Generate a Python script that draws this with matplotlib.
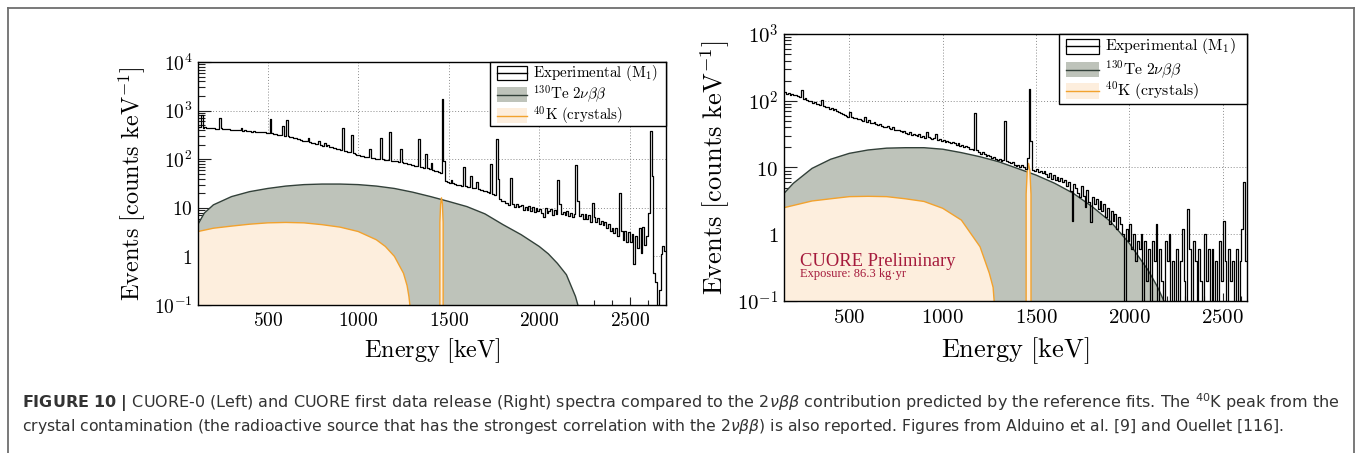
import numpy as np
import matplotlib
matplotlib.use('Agg')
import matplotlib.pyplot as plt
from matplotlib.patches import Rectangle
from matplotlib.lines import Line2D
from matplotlib.ticker import LogLocator, NullFormatter, MultipleLocator

plt.rcParams['mathtext.fontset'] = 'cm'
plt.rcParams['axes.unicode_minus'] = False

# ---------------- DATA ----------------
# Left panel (CUORE-0): experimental spectrum, 10 keV bins starting at 100 keV
LEFT_BIN_START = 100
LEFT_BIN_WIDTH = 10
LEFT_COUNTS = [
    470, 462, 455, 800, 448, 452, 440, 436, 445, 432,      # 100-200
    430, 428, 424, 700, 430, 418, 412, 420, 410, 405,      # 200-300
    402, 398, 395, 392, 400, 430, 384, 395, 380, 376,      # 300-400
    375, 370, 372, 365, 368, 360, 362, 356, 355, 350,      # 400-500
    350, 670, 342, 336, 330, 322, 318, 312, 480, 306,      # 500-600
    640, 300, 292, 285, 278, 270, 262, 255, 248, 242,      # 600-700
    238, 232, 275, 225, 220, 215, 210, 205, 235, 195,      # 700-800
    190, 220, 185, 200, 178, 175, 172, 168, 165, 160,      # 800-900
    156, 430, 150, 146, 142, 138, 320, 132, 128, 122,      # 900-1000
    120, 118, 115, 113, 111, 109, 165, 107, 105, 103,      # 1000-1100
    102, 100, 275, 99, 97, 96, 95, 360, 93, 92,            # 1100-1200
    92, 90, 89, 165, 86, 84, 82, 80, 78, 76,               # 1200-1300
    75, 73, 72, 260, 70, 68, 67, 125, 65, 63,              # 1300-1400
    85, 60, 58, 56, 55, 52, 1700, 90, 36, 34,              # 1400-1500
    33, 38, 32, 31, 30, 30, 29, 28, 70, 28,                # 1500-1600
    27, 27, 45, 26, 25, 34, 24, 23, 23, 22,                # 1600-1700
    22, 21, 20, 80, 19, 18, 260, 40, 15, 14,               # 1700-1800
    13.5, 12.4, 12.8, 11.6, 42, 11.8, 10.4, 11.8, 10.2, 10.9,  # 1800-1900
    11.2, 9.0, 10.6, 8.8, 10.8, 8.6, 10.2, 8.2, 9.9, 8.7,  # 1900-2000
    9.6, 7.8, 6.6, 9.8, 8.0, 8.6, 9.6, 7.0, 9.0, 7.6,      # 2000-2100
    38, 12, 7.6, 8.2, 7.0, 8.6, 6.8, 8.0, 6.4, 7.4,        # 2100-2200
    77, 14, 6.8, 7.4, 5.8, 7.4, 6.0, 7.0, 5.2, 12.5,       # 2200-2300
    6.6, 5.0, 6.2, 4.6, 5.4, 4.4, 5.0, 3.8, 4.6, 3.4,      # 2300-2400
    3.8, 3.0, 3.9, 2.6, 20, 3.4, 2.2, 3.4, 2.0, 3.2,       # 2400-2500
    2.0, 2.9, 0.7, 2.6, 1.5, 3.8, 1.2, 4.0, 1.7, 2.6,      # 2500-2600
    8, 375, 45, 0.45, 0.3, 0.05, 0.2, 1.1, 1.6, 1.3,       # 2600-2700
]
LEFT_BB_E = [115, 150, 200, 300, 400, 500, 600, 700, 800, 900, 1000, 1100, 1200,
             1300, 1400, 1500, 1600, 1700, 1800, 1900, 2000, 2050, 2100, 2150,
             2200, 2230]
LEFT_BB_V = [4.6, 7.8, 11.5, 17, 21.5, 25, 28, 30, 30.8, 30.8, 30, 28, 25,
             21, 17, 13.5, 10.6, 7.5, 4.5, 2.8, 1.6, 1.13, 0.72, 0.42,
             0.15, 0.06]
LEFT_K_E = [115, 200, 300, 400, 500, 600, 700, 800, 900, 1000, 1100, 1150,
            1200, 1250, 1270, 1280, 1292]
LEFT_K_V = [3.25, 3.8, 4.2, 4.6, 4.9, 5.0, 4.9, 4.5, 4.0, 3.25, 2.2, 1.6,
            1.0, 0.45, 0.25, 0.15, 0.06]
LEFT_KPEAK_E = [1448, 1451, 1455, 1460, 1465, 1469, 1472]
LEFT_KPEAK_V = [0, 5, 12, 16, 12, 5, 0]

# Right panel (CUORE): experimental spectrum, 10 keV bins starting at 150 keV
RIGHT_BIN_START = 150
RIGHT_BIN_WIDTH = 10
RIGHT_COUNTS = [
    135, 128, 132, 124, 126, 120, 122, 118, 114, 145,      # 150-250
    108, 110, 102, 98, 100, 92, 95, 88, 90, 86,            # 250-350
    103, 84, 82, 80, 76, 78, 72, 74, 70, 68,               # 350-450
    66, 64, 62, 60, 58, 69, 57, 55, 56, 54,                # 450-550
    53, 52, 50, 58, 48, 52, 47, 46, 48, 45,                # 550-650
    44, 45, 42, 41, 40, 42, 39, 38, 40, 37,                # 650-750
    36, 37, 35, 34, 35, 33, 32, 34, 31, 32,                # 750-850
    31, 30, 32, 29, 30, 28, 34, 29, 28, 27,                # 850-950
    28, 32, 26, 27, 25, 26, 24, 25, 24, 23,                # 950-1050
    24, 23, 22, 23, 21, 22, 20, 21, 20, 19,                # 1050-1150
    19, 18, 65, 18, 17, 16, 17, 16, 15, 15.5,              # 1150-1250
    15, 14, 14.5, 13.5, 13, 13.6, 12.5, 13, 50, 12.5,      # 1250-1350
    12, 11.5, 12.2, 11, 10.6, 11, 10.2, 10.8, 10, 9.6,     # 1350-1450
    14, 148, 25, 9.2, 8.8, 9.5, 8.6, 9.0, 8.2, 8.8,        # 1450-1550
    8.0, 7.2, 8.4, 6.8, 7.6, 6.5, 7.2, 6.2, 6.9, 6.0,      # 1550-1650
    6.4, 5.2, 6.0, 4.4, 1.6, 5.6, 5.0, 4.2, 3.6, 5.2,      # 1650-1750
    3.8, 2.6, 4.6, 3.0, 1.5, 3.6, 2.8, 3.4, 2.4, 3.2,      # 1750-1850
    2.2, 2.8, 1.8, 2.5, 1.4, 2.2, 1.6, 2.0, 1.2, 1.8,      # 1850-1950
    1.4, 1.0, 0, 1.2, 0.8, 1.4, 0.6, 1.0, 0.4, 0.8,        # 1950-2050
    0.6, 1.0, 0, 0.8, 0.2, 0.6, 0, 0.8, 0.4, 1.4,          # 2050-2150
    0, 0.6, 0.2, 0, 0.8, 0.4, 1.0, 0, 0.4, 0,              # 2150-2250
    0.6, 0, 0.4, 1.2, 0.2, 0, 2.4, 0.6, 0, 0.8,            # 2250-2350
    0.4, 0, 0.6, 0.2, 0, 1.0, 0.2, 0.6, 0, 0.6,            # 2350-2450
    0, 0.4, 0, 0.8, 0.2, 1.6, 0.4, 0, 0.6, 0.2,            # 2450-2550
    0.4, 0, 0.6, 0, 0.4, 1.2, 6.1, 0.4,                    # 2550-2630
]
RIGHT_BB_E = [150, 200, 300, 400, 500, 600, 700, 800, 900, 1000, 1100, 1200,
              1300, 1400, 1500, 1600, 1700, 1800, 1900, 2000, 2100, 2150,
              2185, 2200]
RIGHT_BB_V = [4.1, 5.8, 9.7, 13.3, 16.3, 18.3, 19.5, 19.8, 19.8, 18.8, 16.7, 14.5,
              12.2, 9.7, 7.7, 5.8, 4.1, 2.6, 1.54, 0.73, 0.29, 0.164,
              0.1, 0.07]
RIGHT_K_E = [150, 200, 300, 400, 500, 600, 700, 800, 900, 1000, 1100, 1200,
             1250, 1270, 1280]
RIGHT_K_V = [2.5, 2.7, 3.15, 3.4, 3.66, 3.7, 3.66, 3.4, 3.1, 2.45, 1.63, 0.65,
             0.26, 0.16, 0.07]
RIGHT_KPEAK_E = [1444, 1447, 1453, 1460, 1467, 1473, 1476]
RIGHT_KPEAK_V = [0, 4, 9, 11.5, 9, 4, 0]

X_TICKS = [500, 1000, 1500, 2000, 2500]
X_TICKLABELS = ['$500$', '$1000$', '$1500$', '$2000$', '$2500$']
LEFT_YTICKS = [0.1, 1, 10, 100, 1000, 10000]
LEFT_YTICKLABELS = [r'$10^{-1}$', '$1$', '$10$', r'$10^{2}$', r'$10^{3}$', r'$10^{4}$']
RIGHT_YTICKS = [0.1, 1, 10, 100, 1000]
RIGHT_YTICKLABELS = [r'$10^{-1}$', '$1$', '$10$', r'$10^{2}$', r'$10^{3}$']
XLABEL = r'$\mathrm{Energy\ [keV]}$'
YLABEL = r'$\mathrm{Events\ [counts\ keV^{-1}]}$'
LEGEND_LABELS = [r'$\mathrm{Experimental\ (M_{1})}$',
                 r'$^{130}\mathrm{Te}\ 2\nu\beta\beta$',
                 r'$^{40}\mathrm{K\ (crystals)}$']
CUORE_TEXT = 'CUORE Preliminary'
EXPOSURE_TEXT = 'Exposure: 86.3 kg\u00b7yr'
CAPTION_1 = (r'$\mathbf{FIGURE\ 10\ |}$ CUORE-0 (Left) and CUORE first data release (Right) '
             r'spectra compared to the $2\nu\beta\beta$ contribution predicted by the reference '
             r'fits. The $^{40}$K peak from the')
CAPTION_2 = (r'crystal contamination (the radioactive source that has the strongest correlation '
             r'with the $2\nu\beta\beta$) is also reported. Figures from Alduino et al. [9] and '
             r'Ouellet [116].')

# ---------------- STYLE ----------------
GRAY = '#bec3ba'
DARK = '#33413a'
PEACH = '#fdeedd'
ORANGE = '#f2a22e'
CRIMSON = '#a51a3c'

W, H = 1357, 453
fig = plt.figure(figsize=(W / 100, H / 100), dpi=100)


def fx(x):
    return x / W


def fy(y):
    return 1 - y / H


def add_axes_px(x0, y0, x1, y1):
    return fig.add_axes([fx(x0), fy(y1), (x1 - x0) / W, (y1 - y0) / H])


def steps(start, width, vals):
    vals = np.asarray(vals, dtype=float)
    edges = start + width * np.arange(len(vals) + 1)
    x = np.repeat(edges, 2)[1:-1]
    y = np.repeat(vals, 2)
    return x, y


def panel(ax, start, width, counts, bb_e, bb_v, k_e, k_v, kp_e, kp_v, xlim, yticks,
          yticklabels, fs_tick, fs_label, ytl, xtl, xlab_y, ylab_x):
    ax.set_yscale('log')
    ax.set_xlim(*xlim)
    ax.set_ylim(yticks[0], yticks[-1])
    x, y = steps(start, width, counts)
    for xt in X_TICKS:
        ax.axvline(xt, color='#8c8c8c', ls=(0, (1, 2)), lw=0.7, zorder=0.5)
    for yt in yticks[1:-1]:
        ax.axhline(yt, color='#8c8c8c', ls=(0, (1, 2)), lw=0.7, zorder=0.5)
    ax.fill_between(x, y, 0, color='white', lw=0, zorder=1)
    ax.fill_between(bb_e, bb_v, 0, color=GRAY, lw=0, zorder=2)
    ax.plot(bb_e, bb_v, color=DARK, lw=1.0, zorder=2.2)
    ax.fill_between(k_e, k_v, 0, color=PEACH, lw=0, zorder=3)
    ax.plot(k_e, k_v, color=ORANGE, lw=1.0, zorder=3.2)
    ax.fill_between(kp_e, kp_v, 0, color=PEACH, lw=0, zorder=3)
    ax.plot(kp_e, kp_v, color=ORANGE, lw=1.0, zorder=3.2)
    ax.plot(x, y, color='black', lw=0.9, zorder=4)

    ax.set_xticks(X_TICKS)
    ax.set_xticklabels(X_TICKLABELS)
    ax.xaxis.set_minor_locator(MultipleLocator(100))
    ax.set_yticks(yticks)
    ax.set_yticklabels(yticklabels)
    ax.yaxis.set_minor_locator(LogLocator(base=10, subs=np.arange(2, 10), numticks=30))
    ax.yaxis.set_minor_formatter(NullFormatter())
    ax.tick_params(axis='both', which='both', direction='in', top=False, right=False,
                   labelsize=fs_tick, width=0.8, color='#222222', zorder=6)
    ax.tick_params(axis='x', which='major', length=xtl[0], pad=4)
    ax.tick_params(axis='x', which='minor', length=xtl[1])
    ax.tick_params(axis='y', which='major', length=ytl[0], pad=4)
    ax.tick_params(axis='y', which='minor', length=ytl[1])
    for s in ax.spines.values():
        s.set_linewidth(1.0)
        s.set_zorder(6)
    ax.set_xlabel(XLABEL, fontsize=fs_label)
    ax.set_ylabel(YLABEL, fontsize=fs_label)
    ax.xaxis.label.set_va('center')
    ax.yaxis.label.set_va('center')
    ax.yaxis.label.set_ha('center')
    ax.xaxis.set_label_coords(0.5, xlab_y)
    ax.yaxis.set_label_coords(ylab_x, 0.5)


def legend_px(box, rows_y, hx0, hx1, hh, tx, fs):
    x0, y0, x1, y1 = box
    fig.add_artist(Rectangle((fx(x0), fy(y1)), (x1 - x0) / W, (y1 - y0) / H,
                             transform=fig.transFigure, fc='white', ec='black',
                             lw=1.0, zorder=10))
    styles = [('white', 'black', 'black'), (GRAY, 'none', DARK), (PEACH, 'none', ORANGE)]
    for (fc, ec, lc), yc, lab in zip(styles, rows_y, LEGEND_LABELS):
        fig.add_artist(Rectangle((fx(hx0), fy(yc + hh / 2)), (hx1 - hx0) / W, hh / H,
                                 transform=fig.transFigure, fc=fc, ec=ec, lw=0.9,
                                 zorder=11))
        fig.add_artist(Line2D([fx(hx0), fx(hx1)], [fy(yc), fy(yc)],
                              transform=fig.transFigure, color=lc, lw=1.0, zorder=12))
        fig.text(fx(tx), fy(yc), lab, fontsize=fs, va='center', ha='left', zorder=13)


# Left panel
axL = add_axes_px(198, 62, 666, 305)
panel(axL, LEFT_BIN_START, LEFT_BIN_WIDTH, LEFT_COUNTS, LEFT_BB_E, LEFT_BB_V,
      LEFT_K_E, LEFT_K_V, LEFT_KPEAK_E, LEFT_KPEAK_V, (115, 2700), LEFT_YTICKS,
      LEFT_YTICKLABELS, 14, 17.5, (9.4, 5.0), (5.8, 3.4),
      -(351 - 305) / 243, (132 - 198) / 468)
legend_px((490, 62, 666, 126), (73, 94.5, 115.5), 497, 527, 14, 533, 10.8)

# Right panel
axR = add_axes_px(784, 34, 1247, 301)
panel(axR, RIGHT_BIN_START, RIGHT_BIN_WIDTH, RIGHT_COUNTS, RIGHT_BB_E, RIGHT_BB_V,
      RIGHT_K_E, RIGHT_K_V, RIGHT_KPEAK_E, RIGHT_KPEAK_V, (150, 2630), RIGHT_YTICKS,
      RIGHT_YTICKLABELS, 15, 19, (9.4, 5.0), (6.0, 3.6),
      -(351 - 301) / 267, (715 - 784) / 463)
legend_px((1059, 34, 1247, 104), (46, 69.5, 91), 1066, 1099, 15, 1105, 11.3)

fig.text(fx(800), fy(266.5), CUORE_TEXT, fontsize=13.3, color=CRIMSON,
         family='Liberation Serif', va='baseline', ha='left', zorder=20)
fig.text(fx(800), fy(277.5), EXPOSURE_TEXT, fontsize=9.0, color=CRIMSON,
         family='Liberation Serif', va='baseline', ha='left', zorder=20)

# Outer frame
for xs, ys in [((7.5, 7.5), (8, 460)), ((7.5, 1354), (8, 8)), ((1354, 1354), (8, 460))]:
    fig.add_artist(Line2D([fx(v) for v in xs], [fy(v) for v in ys],
                          transform=fig.transFigure, color='#6e6e6e', lw=1.3))

# Caption
cap1 = fig.text(fx(22), fy(403), CAPTION_1, fontsize=10, color='#333333',
                family='DejaVu Sans', math_fontfamily='dejavusans', va='center', ha='left')
cap2 = fig.text(fx(22), fy(426), CAPTION_2, fontsize=10, color='#333333',
                family='DejaVu Sans', math_fontfamily='dejavusans', va='center', ha='left')
fig.canvas.draw()
r = fig.canvas.get_renderer()
w1 = cap1.get_window_extent(r).width
w2 = cap2.get_window_extent(r).width
cap1.set_fontsize(10 * 1316 / w1)
cap2.set_fontsize(10 * 1262 / w2)

fig.savefig('out.png', dpi=100)
